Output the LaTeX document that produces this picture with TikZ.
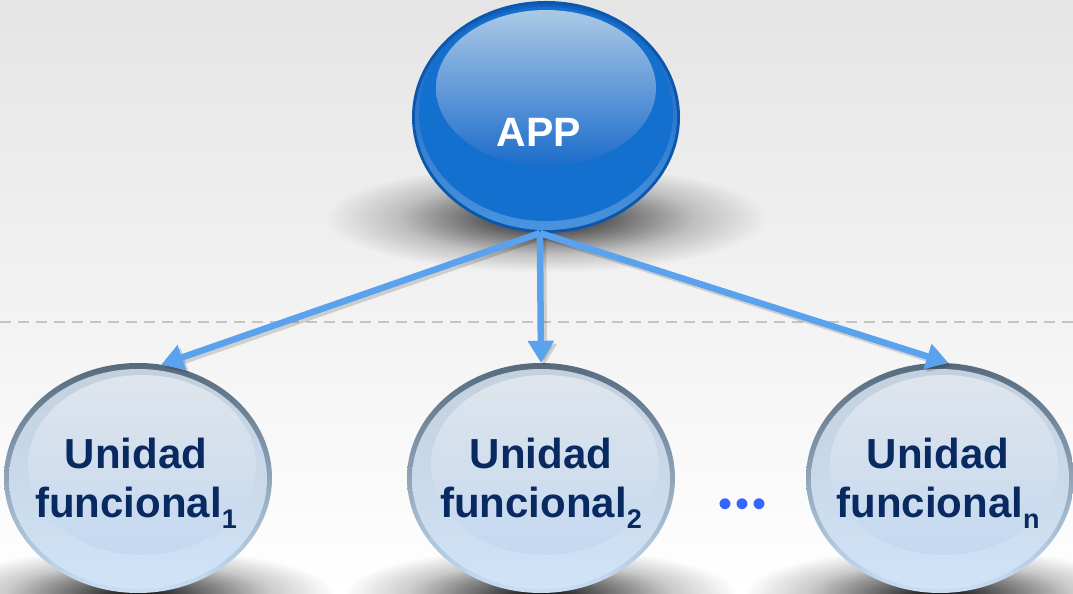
\documentclass[tikz,border=0pt]{standalone}
\usepackage{fontspec}
\setmainfont{Liberation Sans}
\usetikzlibrary{shapes.geometric,arrows.meta,fadings}
\definecolor{navy}{HTML}{082A60}
\definecolor{bgtop}{HTML}{E5E5E5}
\definecolor{arrowblue}{HTML}{5AA2EE}
\definecolor{dotblue}{HTML}{3366FF}
\definecolor{dashgray}{HTML}{C4C4C4}
\definecolor{apprim}{HTML}{0C57AE}
\definecolor{appringtop}{HTML}{1260BE}
\definecolor{appringbot}{HTML}{4A93DD}
\definecolor{appbody}{HTML}{1470CF}
\definecolor{apphitop}{HTML}{ABC9E6}
\definecolor{apphibot}{HTML}{1C6CCB}
\definecolor{rimtop}{HTML}{566A7C}
\definecolor{rimbot}{HTML}{C8DFF6}
\definecolor{bodytop}{HTML}{C3D0DE}
\definecolor{bodybot}{HTML}{D0E3F7}
\definecolor{hitop}{HTML}{DFE5EC}
\definecolor{hibot}{HTML}{C4D8F0}
\pgfdeclareradialshading{softshade}{\pgfpointorigin}{color(0bp)=(white); color(6bp)=(white!60!black); color(12bp)=(white!22!black); color(18bp)=(black); color(50bp)=(black)}
\begin{tikzfadingfrompicture}[name=soft]
  \shade[shading=softshade] (-1,-1) rectangle (1,1);
\end{tikzfadingfrompicture}
\tikzset{
  unitnode/.style={ellipse, inner sep=0pt, minimum width=268pt, minimum height=240pt,
    align=center, text=navy, font=\fontsize{42}{49}\selectfont\bfseries},
  appnode/.style={ellipse, inner sep=0pt, minimum width=268pt, minimum height=232pt},
  apptext/.style={text=white, font=\fontsize{41}{48}\selectfont\bfseries, inner sep=0pt},
  link/.style={line width=6.5pt, arrowblue, -{Triangle[width=25pt,length=22pt]}},
  linkshadow/.style={line width=6.5pt, black, opacity=0.15, -{Triangle[width=25pt,length=22pt]}},
  shadowblob/.style={fill=black, path fading=soft, fit fading=true},
}
\newcommand\subidx[1]{\raisebox{-11pt}{\fontsize{27}{27}\selectfont #1}}
\newcommand\glassunit[1]{%
  \shade[top color=rimtop, bottom color=rimbot] (#1) ellipse [x radius=134pt, y radius=115pt];
  \shade[top color=bodytop, bottom color=bodybot] ([yshift=-1pt]#1) ellipse [x radius=129pt, y radius=110pt];
  \shade[top color=hitop, bottom color=hibot] ([shift={(4pt,13pt)}]#1) ellipse [x radius=114pt, y radius=90pt];
}
\begin{document}
\begin{tikzpicture}[x=1pt,y=1pt]
\useasboundingbox (0,0) rectangle (1073,594);
\begin{scope}
  \clip (0,0) rectangle (1073,594);
  \shade[top color=bgtop, bottom color=white] (0,0) rectangle (1073,594);
  % dashed separator
  \draw[dashgray, line width=2pt, dash pattern=on 11pt off 7pt] (0,272) -- (1073,272);
  % shadows
  \fill[shadowblob, opacity=0.9] (546,376) ellipse [x radius=270pt, y radius=66pt];
  \fill[shadowblob, opacity=0.95] (138,0) ellipse [x radius=240pt, y radius=56pt];
  \fill[shadowblob, opacity=0.95] (541,0) ellipse [x radius=240pt, y radius=56pt];
  \fill[shadowblob, opacity=0.95] (940,0) ellipse [x radius=240pt, y radius=56pt];
  % top glass ellipse
  \fill[apprim] (546,477) ellipse [x radius=134pt, y radius=116pt];
  \shade[top color=appringtop, bottom color=appringbot] (546,477) ellipse [x radius=131pt, y radius=113pt];
  \fill[appbody] (546,480) ellipse [x radius=127pt, y radius=107pt];
  \shade[top color=apphitop, bottom color=apphibot] (546,506) ellipse [x radius=110pt, y radius=78pt];
  % bottom glass ellipses
  \glassunit{138,116}
  \glassunit{541,116}
  \glassunit{940,116}
\end{scope}
% nodes
\node[appnode] (app) at (546,477) {};
\node[apptext] (apptxt) at (539,462) {APP};
\node[unitnode] (u1) at (136,111) {Unidad\\funcional\subidx{1}};
\node[unitnode] (u2) at (541,111) {Unidad\\funcional\subidx{2}};
\node[unitnode] (u3) at (938,111) {Unidad\\funcional\subidx{n}};
\node[text=dotblue, font=\fontsize{40}{40}\selectfont, inner sep=0pt] (dots) at (742,86) {•\kern3pt•\kern3pt•};
% connectors
\coordinate (src) at (app.267);
\draw[linkshadow] ([shift={(3pt,-3pt)}]src) -- ([shift={(3pt,-3pt)}]u1.78);
\draw[linkshadow] ([shift={(3pt,-3pt)}]src) -- ([shift={(3pt,-3pt)}]u2.north);
\draw[linkshadow] ([shift={(3pt,-3pt)}]src) -- ([shift={(3pt,-3pt)}]u3.85);
\draw[link] (src) -- (u1.78);
\draw[link] (src) -- (u2.north);
\draw[link] (src) -- (u3.85);
\end{tikzpicture}
\end{document}
